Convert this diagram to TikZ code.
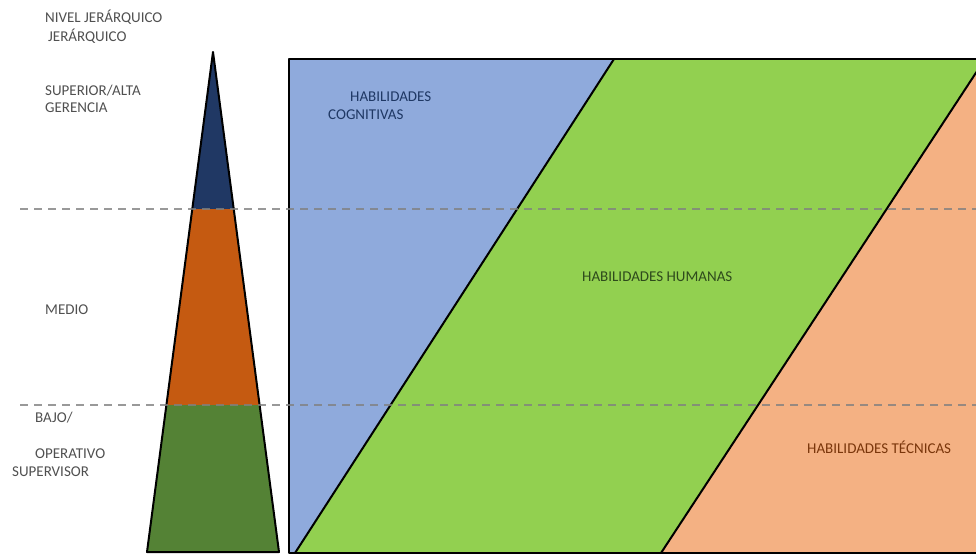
\documentclass[tikz,border=0pt]{standalone}
\usepackage{fontspec}
\setmainfont{Carlito}
\definecolor{cogfill}{HTML}{8FAADC}
\definecolor{humfill}{HTML}{92D050}
\definecolor{tecfill}{HTML}{F4B183}
\definecolor{topfill}{HTML}{203864}
\definecolor{midfill}{HTML}{C55A11}
\definecolor{lowfill}{HTML}{548235}
\definecolor{labgray}{HTML}{505050}
\definecolor{cogtext}{HTML}{1F3864}
\definecolor{humtext}{HTML}{2E4A1C}
\definecolor{tectext}{HTML}{7A360B}
\tikzset{
  lbl/.style={anchor=base west, inner sep=0pt, font=\fontsize{15}{17}\selectfont},
  levellbl/.style={lbl, text=labgray},
  edge/.style={draw=black, line width=2pt, line join=round},
  levelline/.style={draw=gray, line width=2pt, dash pattern=on 8pt off 6pt, opacity=0.8}
}
\begin{document}
\begin{tikzpicture}[x=1pt,y=-1pt]
\useasboundingbox (0,0) rectangle (976,554);
\clip (0,0) rectangle (976,554);
% skill regions
\fill[cogfill] (289,59) rectangle (1000,553);
\fill[humfill] (614,59) -- (985,59) -- (661,553) -- (295,553) -- cycle;
\fill[tecfill] (985,59) -- (1000,59) -- (1000,553) -- (661,553) -- cycle;
\draw[edge] (1000,59) -- (289,59) -- (289,553) -- (1000,553);
\draw[edge] (614,59) -- (295,553);
\draw[edge] (985,59) -- (661,553);
% pyramid
\begin{scope}
\clip (213,52) -- (279,552) -- (147,552) -- cycle;
\fill[topfill] (140,40) rectangle (290,209);
\fill[midfill] (140,209) rectangle (290,405);
\fill[lowfill] (140,405) rectangle (290,560);
\end{scope}
\draw[edge] (213,52) -- (279,552) -- (147,552) -- cycle;
% level lines
\coordinate (l1a) at (20,209);
\coordinate (l1b) at (976,209);
\coordinate (l2a) at (20,405);
\coordinate (l2b) at (976,405);
\draw[levelline] (l1a) -- (l1b);
\draw[levelline] (l2a) -- (l2b);
% labels
\node[levellbl] (nivel) at (45,22.5) {NIVEL JERÁRQUICO};
\node[levellbl] (jer) at (48,41.5) {JERÁRQUICO};
\node[levellbl] (sup) at (45,95.5) {SUPERIOR/ALTA};
\node[levellbl] (ger) at (45,112.5) {GERENCIA};
\node[levellbl] (medio) at (45,314.5) {MEDIO};
\node[levellbl] (bajo) at (35,422.5) {BAJO/};
\node[levellbl] (oper) at (35,458.5) {OPERATIVO};
\node[levellbl] (superv) at (12,476.5) {SUPERVISOR};
\node[lbl, text=cogtext] (cog1) at (350,101.5) {HABILIDADES};
\node[lbl, text=cogtext] (cog2) at (328,119.5) {COGNITIVAS};
\node[lbl, text=humtext] (hum) at (582,281.5) {HABILIDADES HUMANAS};
\node[lbl, text=tectext] (tec) at (807,453.5) {HABILIDADES TÉCNICAS};
\end{tikzpicture}
\end{document}
